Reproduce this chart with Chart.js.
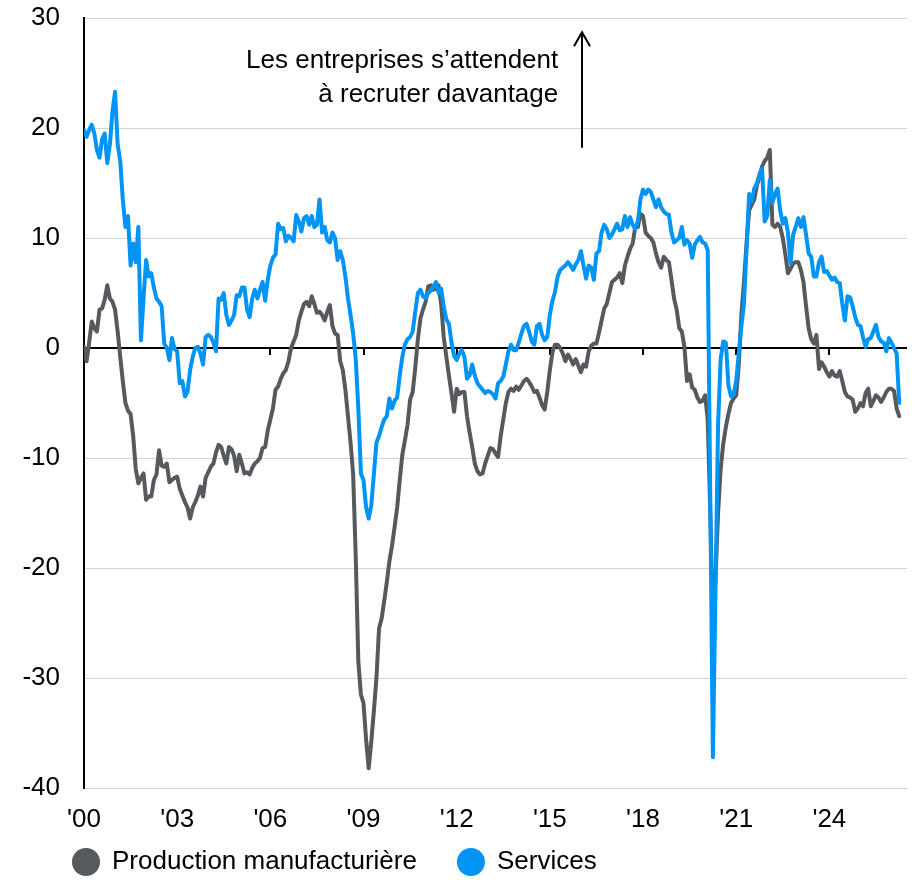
<!DOCTYPE html>
<html>
<head>
<meta charset="utf-8">
<script src="https://cdn.jsdelivr.net/npm/chart.js@4.4.1/dist/chart.umd.min.js"></script>
<style>
  html, body { margin: 0; padding: 0; background: #fff; }
  #wrap { width: 916px; height: 880px; position: relative; }
</style>
</head>
<body>
<div id="wrap"><canvas id="embaucheChart"></canvas></div>
<script>
// Perspectives d'emploi, valeurs mensuelles depuis janvier 2000
const startYear = 2000;

const tickYears = [2000, 2003, 2006, 2009, 2012, 2015, 2018, 2021, 2024];
const tickLabels = ["'00", "'03", "'06", "'09", "'12", "'15", "'18", "'21", "'24"];

const manufacturing = [
  0.1, -1.2, 0.5, 2.4, 1.8, 1.5, 3.5, 3.6, 4.4, 5.7, 4.5, 4.2,                  // 2000
  3.5, 1.5, -0.8, -3.0, -5.0, -5.7, -6.0, -8.0, -11.0, -12.3, -11.8, -11.4,     // 2001
  -13.8, -13.5, -13.5, -12.0, -11.5, -9.3, -10.7, -10.8, -10.5, -12.2, -12.0, -11.8,
  -11.7, -12.8, -13.4, -14.0, -14.5, -15.5, -14.5, -14.0, -13.4, -12.6, -13.5, -11.8,
  -11.3, -10.8, -10.5, -9.5, -8.8, -9.0, -9.8, -10.5, -9.0, -9.2, -9.8, -11.2,
  -9.7, -10.5, -11.4, -11.3, -11.5, -10.9, -10.5, -10.3, -10.0, -9.1, -9.0, -7.5, // 2005
  -6.5, -5.5, -3.8, -3.5, -2.8, -2.3, -2.0, -1.2, 0.0, 0.6, 1.2, 2.5,
  3.3, 4.0, 4.2, 3.8, 4.7, 4.0, 3.2, 3.3, 3.0, 2.5, 3.3, 3.9,
  2.0, 1.3, 1.2, -1.2, -2.0, -3.8, -6.2, -8.6, -11.5, -19.0, -28.5, -31.5,
  -32.3, -35.6, -38.2, -35.8, -33.0, -30.0, -25.5, -24.6, -23.0, -21.3, -19.4, -18.0,
  -16.3, -14.5, -12.0, -9.7, -8.4, -7.0, -4.7, -4.0, -1.8, 0.8, 2.7, 3.5,       // 2010
  4.2, 5.6, 5.7, 5.3, 5.4, 5.7, 4.0, 1.0, -0.8, -2.5, -4.1, -5.8,
  -3.7, -4.2, -4.0, -4.0, -6.2, -7.7, -9.0, -10.5, -11.2, -11.5, -11.4, -10.5,
  -9.8, -9.1, -9.2, -9.6, -9.9, -8.0, -6.5, -5.0, -4.0, -3.7, -3.9, -3.5,
  -3.8, -3.4, -3.0, -2.8, -3.1, -3.5, -4.0, -3.9, -4.5, -5.2, -5.6, -4.0,
  -2.0, -0.4, 0.3, 0.3, 0.0, -0.5, -1.2, -0.6, -1.0, -1.5, -1.0, -1.6,          // 2015
  -2.2, -1.5, -1.7, -0.3, 0.2, 0.4, 0.4, 1.4, 2.5, 3.6, 4.0, 5.0,
  6.0, 6.2, 6.4, 6.8, 5.9, 7.5, 8.3, 9.0, 9.5, 11.0, 11.0, 12.2,
  12.0, 10.5, 10.2, 10.0, 9.6, 8.6, 7.8, 7.3, 8.3, 8.0, 7.8, 6.2,
  4.5, 3.5, 1.8, 1.5, 0.1, -3.0, -2.4, -3.6, -3.8, -4.5, -4.9, -4.8,
  -4.3, -6.5, -15.0, -25.0, -21.0, -15.0, -11.0, -8.7, -7.2, -6.0, -5.0, -4.6,  // 2020
  -4.3, -1.5, 3.0, 6.0, 9.5, 12.5, 13.0, 13.5, 14.8, 15.5, 16.5, 17.0,
  17.3, 18.0, 11.2, 11.0, 11.3, 11.0, 10.0, 8.5, 6.8, 7.2, 7.7, 7.8,
  7.8, 7.1, 6.0, 3.8, 1.8, 0.8, 0.4, 1.2, -1.9, -1.3, -1.7, -2.2,
  -2.6, -2.1, -2.5, -2.6, -2.1, -3.0, -4.0, -4.4, -4.5, -4.7, -5.8, -5.5,
  -5.0, -5.3, -4.1, -3.7, -5.3, -4.8, -4.3, -4.5, -4.9, -4.5, -4.0, -3.7,       // 2025
  -3.7, -3.9, -5.5, -6.2
];

const services = [
  19.8, 19.2, 19.8, 20.3, 19.5, 18.0, 17.3, 19.0, 19.5, 16.8, 18.5, 21.5,       // 2000
  23.3, 18.5, 17.0, 13.5, 11.0, 12.0, 7.5, 9.5, 7.8, 11.0, 0.7, 4.5,
  8.0, 6.5, 6.8, 5.5, 4.5, 4.2, 3.8, 0.4, 0.0, -1.1, 0.9, -0.1,
  -0.3, -3.2, -3.0, -4.4, -4.0, -2.0, -0.8, 0.0, 0.1, -0.5, -1.5, 1.0,
  1.2, 1.0, 0.5, -0.3, 4.5, 4.4, 5.0, 3.0, 2.1, 2.5, 3.0, 4.8,
  4.7, 5.5, 5.5, 3.5, 2.8, 4.5, 5.3, 4.5, 5.3, 6.0, 4.3, 6.2,                   // 2005
  7.5, 8.2, 8.5, 11.3, 10.8, 10.9, 9.7, 10.2, 10.0, 9.7, 12.1, 11.5,
  10.6, 11.8, 12.0, 11.2, 12.0, 11.0, 11.2, 13.5, 10.5, 11.0, 9.8, 9.6,
  10.5, 10.0, 8.0, 8.8, 8.0, 6.5, 4.5, 3.0, 1.3, -1.0, -5.5, -11.4,
  -12.0, -14.5, -15.5, -14.3, -11.5, -8.6, -8.0, -7.2, -6.5, -6.2, -4.6, -5.5,
  -4.8, -4.5, -2.5, -0.8, 0.3, 0.8, 1.0, 1.5, 3.3, 5.0, 5.3, 4.7,               // 2010
  4.5, 5.0, 5.2, 5.6, 6.0, 5.0, 5.4, 3.8, 2.6, 2.2, 0.5, -0.7,
  -1.1, -0.5, -0.2, -0.8, -2.8, -2.5, -1.5, -2.5, -3.2, -3.5, -3.8, -4.1,
  -3.9, -4.0, -4.2, -4.6, -3.2, -3.0, -2.6, -1.5, -0.3, 0.3, -0.2, -0.2,
  0.5, 1.3, 2.0, 2.2, 1.5, 0.6, 0.3, 2.0, 2.2, 1.2, 0.7, 1.0,
  3.0, 4.3, 5.1, 6.5, 7.1, 7.3, 7.5, 7.8, 7.5, 7.1, 7.6, 8.0,                   // 2015
  8.8, 7.5, 6.3, 7.5, 7.3, 6.2, 8.6, 8.8, 10.5, 11.2, 10.8, 10.0,
  10.3, 10.8, 11.3, 10.7, 10.8, 12.0, 11.0, 11.9, 11.2, 10.8, 11.5, 13.5,
  14.4, 14.0, 14.4, 14.2, 13.5, 12.8, 13.5, 12.8, 12.4, 12.2, 12.1, 10.5,
  9.6, 9.8, 10.0, 11.0, 9.4, 9.8, 9.5, 8.2, 9.4, 9.8, 10.1, 9.6,
  9.5, 8.9, -14.0, -37.2, -22.0, -7.0, -1.0, 0.6, 0.5, -3.4, -4.4, -4.2,        // 2020
  -3.0, -0.5, 2.0, 4.0, 9.0, 14.0, 13.3, 14.5, 15.0, 15.8, 16.3, 11.5,
  12.0, 15.3, 13.2, 14.0, 14.5, 12.5, 11.3, 11.8, 10.5, 7.7, 10.3, 11.0,
  11.8, 11.0, 11.9, 10.3, 8.6, 8.3, 6.5, 6.5, 7.8, 8.3, 6.9, 7.0,
  6.6, 6.2, 6.4, 6.0, 5.9, 4.0, 2.5, 4.7, 4.6, 3.8, 2.8, 2.1,
  2.0, 1.0, 0.1, 0.8, 0.9, 1.5, 2.1, 1.0, 0.6, 0.5, -0.3, 0.9,                  // 2025
  0.5, 0.0, -0.5, -5.0
];

const seriesNames = ['Production manufacturière', 'Services'];
const seriesColors = ['#56595d', '#0094f5'];

const noteLines = ['Les entreprises s\u2019attendent', '\u00e0 recruter davantage'];

const FONT = "'Liberation Sans', Arial, sans-serif";

const toPoints = arr => arr.map((v, i) => ({ x: startYear + i / 12, y: v }));

// petits traits sous l'axe du zéro, à chaque graduation
const zeroTicks = {
  id: 'zeroTicks',
  beforeDatasetsDraw(chart) {
    const { ctx, scales: { x, y } } = chart;
    const y0 = y.getPixelForValue(0);
    ctx.save();
    ctx.strokeStyle = '#000';
    ctx.lineWidth = 2;
    tickYears.forEach(yr => {
      const px = Math.round(x.getPixelForValue(yr));
      ctx.beginPath();
      ctx.moveTo(px, y0);
      ctx.lineTo(px, y0 + 7);
      ctx.stroke();
    });
    ctx.restore();
  }
};

// texte et flèche en haut du graphique
const upNote = {
  id: 'upNote',
  afterDraw(chart) {
    const { ctx, scales: { x, y } } = chart;
    ctx.save();
    ctx.fillStyle = '#000';
    ctx.font = '26px ' + FONT;
    ctx.textAlign = 'right';
    ctx.textBaseline = 'middle';
    const tx = x.getPixelForValue(2015.27);
    ctx.fillText(noteLines[0], tx, y.getPixelForValue(26.1));
    ctx.fillText(noteLines[1], tx, y.getPixelForValue(23.0));

    const ax = Math.round(x.getPixelForValue(2016.04));
    const yTop = y.getPixelForValue(28.7);
    const yBot = y.getPixelForValue(18.2);
    ctx.strokeStyle = '#000';
    ctx.lineWidth = 2;
    ctx.beginPath();
    ctx.moveTo(ax, yBot);
    ctx.lineTo(ax, yTop);
    ctx.moveTo(ax - 8, yTop + 14);
    ctx.lineTo(ax, yTop);
    ctx.lineTo(ax + 8, yTop + 14);
    ctx.stroke();
    ctx.restore();
  }
};

// légende à pastilles rondes sous l'axe horizontal
const dotLegend = {
  id: 'dotLegend',
  afterDraw(chart) {
    const { ctx } = chart;
    ctx.save();
    ctx.font = '26px ' + FONT;
    ctx.textBaseline = 'middle';
    ctx.textAlign = 'left';
    let cx = 86;
    const cy = 862;
    chart.data.datasets.forEach(ds => {
      ctx.fillStyle = ds.borderColor;
      ctx.beginPath();
      ctx.arc(cx, cy, 14, 0, Math.PI * 2);
      ctx.fill();
      ctx.fillStyle = '#000';
      ctx.fillText(ds.label, cx + 26, cy);
      cx += 26 + ctx.measureText(ds.label).width + 54;
    });
    ctx.restore();
  }
};

new Chart(document.getElementById('embaucheChart'), {
  type: 'line',
  data: {
    datasets: [
      {
        label: seriesNames[0],
        data: toPoints(manufacturing),
        borderColor: seriesColors[0],
        backgroundColor: seriesColors[0],
        borderWidth: 4,
        pointRadius: 0,
        tension: 0,
        borderJoinStyle: 'round',
        borderCapStyle: 'round',
        order: 2
      },
      {
        label: seriesNames[1],
        data: toPoints(services),
        borderColor: seriesColors[1],
        backgroundColor: seriesColors[1],
        borderWidth: 4,
        pointRadius: 0,
        tension: 0,
        borderJoinStyle: 'round',
        borderCapStyle: 'round',
        order: 1
      }
    ]
  },
  options: {
    responsive: true,
    maintainAspectRatio: false,
    devicePixelRatio: 1,
    animation: false,
    layout: { padding: { top: 18, right: 9, left: 0, bottom: 0 } },
    plugins: {
      legend: { display: false },
      tooltip: { enabled: false }
    },
    scales: {
      x: {
        type: 'linear',
        min: 2000,
        max: 2026.5,
        afterBuildTicks(scale) {
          scale.ticks = tickYears.map(v => ({ value: v }));
        },
        afterFit(scale) {
          scale.height = 92;
          scale.paddingLeft = 0;
          scale.paddingRight = 0;
        },
        grid: { display: false },
        border: { display: false },
        ticks: {
          autoSkip: false,
          maxRotation: 0,
          includeBounds: false,
          padding: 8,
          color: '#000',
          font: { family: FONT, size: 26 },
          callback: v => tickLabels[tickYears.indexOf(v)]
        }
      },
      y: {
        min: -40,
        max: 30,
        afterFit(scale) {
          scale.width = 84;
          scale.paddingTop = 0;
          scale.paddingBottom = 0;
        },
        grid: {
          drawTicks: false,
          color: c => (c.tick && c.tick.value === 0 ? '#000' : '#d3d3d3'),
          lineWidth: c => (c.tick && c.tick.value === 0 ? 2 : 1)
        },
        border: { display: true, color: '#000', width: 2 },
        ticks: {
          stepSize: 10,
          padding: 24,
          color: '#000',
          font: { family: FONT, size: 26 }
        }
      }
    }
  },
  plugins: [zeroTicks, upNote, dotLegend]
});
</script>
</body>
</html>
